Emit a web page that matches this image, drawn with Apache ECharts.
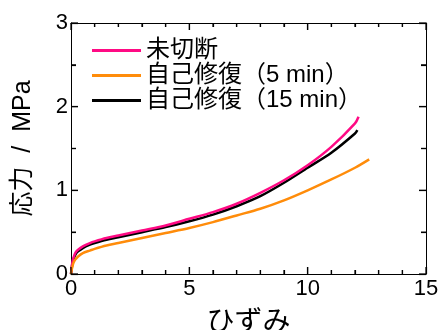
<!DOCTYPE html>
<html>
<head>
<meta charset="utf-8">
<script src="https://cdn.jsdelivr.net/npm/echarts@6/dist/echarts.min.js"></script>
<style>
html,body{margin:0;padding:0;background:#fff;}
#chart{width:441px;height:330px;}
</style>
</head>
<body>
<div id="chart"></div>
<script>
var seriesNames = ['未切断', '自己修復（5 min）', '自己修復（15 min）'];
var xTicks = [0, 5, 10, 15];
var yTicks = [0, 1, 2, 3];
var xMinorSplit = 5;
var yMinorSplit = 2;

var uncutStrain = [0, 0.03, 0.06, 0.1, 0.15, 0.2, 0.3, 0.5, 0.8, 1, 1.5, 2, 3, 4, 5, 6, 7, 8, 9, 10, 11, 12, 12.15];
var uncutStress = [0, 0.08, 0.14, 0.19, 0.23, 0.26, 0.29, 0.33, 0.37, 0.39, 0.43, 0.46, 0.52, 0.58, 0.66, 0.74, 0.84, 0.97, 1.12, 1.30, 1.52, 1.80, 1.88];

var heal5Strain = [0, 0.03, 0.06, 0.1, 0.15, 0.2, 0.3, 0.5, 0.8, 1, 1.5, 2, 3, 4, 5, 6, 7, 8, 9, 10, 11, 12, 12.6];
var heal5Stress = [0, 0.05, 0.09, 0.13, 0.16, 0.18, 0.21, 0.25, 0.28, 0.30, 0.34, 0.37, 0.43, 0.49, 0.55, 0.62, 0.70, 0.78, 0.88, 1.00, 1.13, 1.27, 1.37];

var heal15Strain = [0, 0.03, 0.06, 0.1, 0.15, 0.2, 0.3, 0.5, 0.8, 1, 1.5, 2, 3, 4, 5, 6, 7, 8, 9, 10, 11, 12, 12.1];
var heal15Stress = [0, 0.07, 0.13, 0.17, 0.21, 0.24, 0.27, 0.31, 0.35, 0.37, 0.41, 0.44, 0.50, 0.56, 0.63, 0.71, 0.81, 0.93, 1.09, 1.27, 1.45, 1.68, 1.72];

function pairs(xs, ys) { return xs.map(function (x, i) { return [x, ys[i]]; }); }

var FONT = "'Liberation Sans', 'Noto Sans CJK JP', sans-serif";
var chart = echarts.init(document.getElementById('chart'), null, {renderer: 'canvas'});

function xAxisCfg(pos, showLabel) {
  return {
    type: 'value', position: pos, min: xTicks[0], max: xTicks[xTicks.length - 1], interval: 5,
    name: showLabel ? 'ひずみ' : '', nameLocation: 'middle', nameGap: 35,
    nameTextStyle: {fontFamily: FONT, fontSize: 28, color: '#000'},
    axisLine: {show: true, onZero: false, lineStyle: {color: '#000', width: 1}},
    axisTick: {show: true, inside: true, length: 7, lineStyle: {color: '#000', width: 1.2}},
    minorTick: {show: true, splitNumber: xMinorSplit, length: 4, lineStyle: {color: '#000', width: 1.2}},
    axisLabel: {show: showLabel, margin: 4, fontFamily: FONT, fontSize: 22, color: '#000'},
    splitLine: {show: false}, minorSplitLine: {show: false}
  };
}
function yAxisCfg(pos, showLabel) {
  return {
    type: 'value', position: pos, min: yTicks[0], max: yTicks[yTicks.length - 1], interval: 1,
    name: showLabel ? '応力  /  MPa' : '', nameLocation: 'middle', nameGap: 35,
    nameTextStyle: {fontFamily: FONT, fontSize: 25, color: '#000'},
    axisLine: {show: true, onZero: false, lineStyle: {color: '#000', width: 1}},
    axisTick: {show: true, inside: true, length: 7, lineStyle: {color: '#000', width: 1.2}},
    minorTick: {show: true, splitNumber: yMinorSplit, length: 5, lineStyle: {color: '#000', width: 1.2}},
    axisLabel: {show: showLabel, margin: 3, fontFamily: FONT, fontSize: 22, color: '#000'},
    splitLine: {show: false}, minorSplitLine: {show: false}
  };
}

var option = {
  animation: false,
  backgroundColor: '#fff',
  grid: {left: 71, right: 15, top: 23, bottom: 56, containLabel: false, outerBoundsMode: 'none'},
  legend: {
    data: seriesNames,
    orient: 'vertical', left: 92, top: 38, padding: 0,
    itemWidth: 49, itemHeight: 3, itemGap: 0,
    icon: 'rect',
    textStyle: {fontFamily: FONT, fontSize: 24, lineHeight: 25, color: '#000'},
    selectedMode: false
  },
  xAxis: [xAxisCfg('bottom', true), xAxisCfg('top', false)],
  yAxis: [yAxisCfg('left', true), yAxisCfg('right', false)],
  series: [
    {name: seriesNames[2], type: 'line', data: pairs(heal15Strain, heal15Stress), showSymbol: false, smooth: 0.3,
     lineStyle: {color: '#000000', width: 2.5}, itemStyle: {color: '#000000'}},
    {name: seriesNames[0], type: 'line', data: pairs(uncutStrain, uncutStress), showSymbol: false, smooth: 0.3,
     lineStyle: {color: '#ff0a84', width: 2.5}, itemStyle: {color: '#ff0a84'}},
    {name: seriesNames[1], type: 'line', data: pairs(heal5Strain, heal5Stress), showSymbol: false, smooth: 0.3,
     lineStyle: {color: '#ff8c0a', width: 2.5}, itemStyle: {color: '#ff8c0a'}}
  ]
};
chart.setOption(option);

// Tick marks placed through the chart's own scales (fallback so they always show).
function tickValues(ticks, split) {
  var out = [];
  for (var i = 0; i < ticks.length; i++) {
    out.push({v: ticks[i], major: true});
    if (i < ticks.length - 1) {
      var step = (ticks[i + 1] - ticks[i]) / split;
      for (var k = 1; k < split; k++) out.push({v: ticks[i] + step * k, major: false});
    }
  }
  return out;
}
var finder = {xAxisIndex: 0, yAxisIndex: 0};
var yLo = yTicks[0], yHi = yTicks[yTicks.length - 1];
var xLo = xTicks[0], xHi = xTicks[xTicks.length - 1];
var els = [];
var st = {stroke: '#000', lineWidth: 1.2};
tickValues(xTicks, xMinorSplit).forEach(function (t) {
  var pb = chart.convertToPixel(finder, [t.v, yLo]);
  var pt = chart.convertToPixel(finder, [t.v, yHi]);
  var len = t.major ? 7 : 4;
  els.push({type: 'line', silent: true, z: 50, shape: {x1: pb[0], y1: pb[1], x2: pb[0], y2: pb[1] - len}, style: st});
  els.push({type: 'line', silent: true, z: 50, shape: {x1: pt[0], y1: pt[1], x2: pt[0], y2: pt[1] + len}, style: st});
});
tickValues(yTicks, yMinorSplit).forEach(function (t) {
  var pl = chart.convertToPixel(finder, [xLo, t.v]);
  var pr = chart.convertToPixel(finder, [xHi, t.v]);
  var len = t.major ? 7 : 5;
  els.push({type: 'line', silent: true, z: 50, shape: {x1: pl[0], y1: pl[1], x2: pl[0] + len, y2: pl[1]}, style: st});
  els.push({type: 'line', silent: true, z: 50, shape: {x1: pr[0], y1: pr[1], x2: pr[0] - len, y2: pr[1]}, style: st});
});
chart.setOption({graphic: {elements: els}});
</script>
</body>
</html>
